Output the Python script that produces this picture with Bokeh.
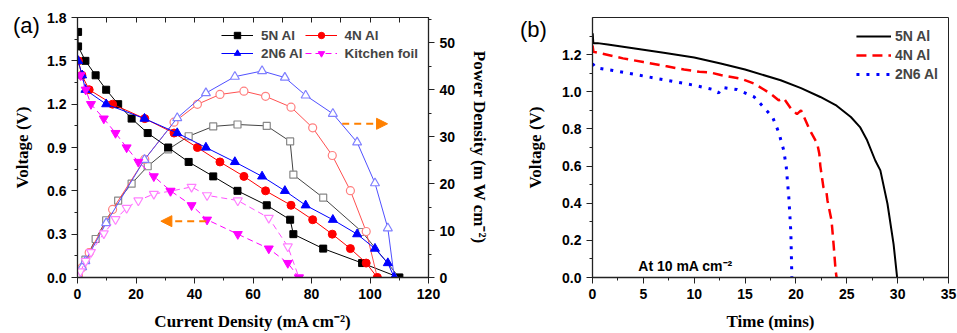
from bokeh.plotting import figure
from bokeh.models import (Range1d, LinearAxis, SingleIntervalTicker, Legend, LegendItem,
                          Arrow, NormalHead, Label, PrintfTickFormatter, CustomJSTickFormatter,
                          Div)
from bokeh.layouts import row
from bokeh.embed import file_html
from bokeh.resources import INLINE

# ---------------- Panel (a) data: polarization & power curves ----------------
cd_5n = [0.2, 0.2, 2.7, 6.2, 9.8, 13.9, 18.5, 24.0, 31.0, 38.0, 46.4, 54.7, 64.7, 72.7, 73.8, 84.0, 97.3, 110.0]
v_5n = [1.7, 1.6, 1.5, 1.4, 1.3, 1.2, 1.1, 1.0, 0.9, 0.8, 0.7, 0.6, 0.5, 0.4, 0.3, 0.2, 0.1, 0.0]
pd_5n = [0.3, 0.3, 3.8, 8.2, 12.2, 16.4, 20.0, 23.7, 27.3, 30.1, 32.2, 32.6, 32.3, 29.0, 21.9, 17.0, 9.7, 0.0]

cd_4n = [0.3, 1.5, 4.0, 12.0, 23.0, 33.0, 41.0, 48.7, 56.9, 64.3, 73.0, 80.4, 87.1, 93.3, 98.7, 102.5]
v_4n = [1.5, 1.4, 1.3, 1.2, 1.1, 1.0, 0.9, 0.8, 0.7, 0.6, 0.5, 0.4, 0.3, 0.2, 0.1, 0.0]
pd_4n = [0.45, 2.1, 5.3, 14.5, 25.2, 33.1, 36.9, 39.0, 39.7, 38.6, 36.3, 31.9, 26.0, 18.5, 9.8, 0.0]

cd_2n6 = [0.2, 1.6, 2.7, 9.8, 22.9, 34.1, 43.9, 53.8, 63.1, 70.9, 78.0, 87.3, 95.6, 101.7, 106.1, 108.3]
v_2n6 = [1.5, 1.4, 1.3, 1.2, 1.1, 1.0, 0.9, 0.8, 0.7, 0.6, 0.5, 0.4, 0.3, 0.2, 0.1, 0.0]
pd_2n6 = [0.3, 2.2, 3.5, 11.6, 25.1, 34.0, 39.3, 42.8, 44.0, 42.6, 38.8, 34.9, 28.8, 20.1, 10.5, 0.0]

cd_kf = [1.0, 2.8, 4.6, 9.0, 13.0, 16.8, 20.8, 26.1, 31.8, 39.0, 44.3, 54.8, 65.4, 71.9, 75.7]
v_kf = [1.4, 1.3, 1.2, 1.1, 1.0, 0.9, 0.8, 0.7, 0.6, 0.5, 0.4, 0.3, 0.2, 0.1, 0.0]
pd_kf = [1.3, 3.5, 5.4, 9.4, 12.4, 14.8, 16.4, 17.8, 18.4, 19.3, 17.5, 16.4, 12.7, 6.6, 0.0]

# ---------------- Panel (b) data: discharge at 10 mA cm-2 ----------------
t_5n = [0.0, 0.02, 0.08, 0.5, 1.5, 4.0, 7.0, 10.0, 12.6, 15.0, 18.5, 20.5, 22.4, 24.0, 25.4, 26.3, 27.0, 27.8, 28.3, 29.0, 29.6, 29.95]
u_5n = [1.27, 1.315, 1.262, 1.262, 1.255, 1.235, 1.21, 1.185, 1.152, 1.12, 1.062, 1.02, 0.972, 0.925, 0.864, 0.81, 0.739, 0.63, 0.577, 0.397, 0.18, 0.0]

t_4n = [0.0, 0.1, 1.0, 3.0, 5.0, 7.3, 9.0, 10.5, 11.5, 12.6, 14.6, 15.9, 17.5, 18.3, 18.8, 19.5, 20.1, 20.5, 21.4, 22.1, 22.3, 22.4, 22.7, 23.0, 23.1, 23.5, 23.7, 23.9, 24.0]
u_4n = [1.25, 1.215, 1.205, 1.18, 1.16, 1.137, 1.12, 1.108, 1.105, 1.09, 1.07, 1.044, 0.99, 0.954, 0.965, 0.91, 0.88, 0.9, 0.79, 0.72, 0.667, 0.6, 0.487, 0.46, 0.415, 0.307, 0.18, 0.038, 0.0]

t_2n6 = [0.0, 0.3, 2.0, 4.0, 6.0, 8.0, 10.0, 11.9, 12.4, 12.75, 14.2, 15.9, 16.8, 17.7, 18.3, 18.8, 19.05, 19.3, 19.5, 19.6]
u_2n6 = [1.152, 1.13, 1.115, 1.095, 1.075, 1.055, 1.035, 1.012, 0.994, 1.023, 1.012, 0.972, 0.918, 0.864, 0.783, 0.685, 0.595, 0.433, 0.244, 0.0]

names_a = ["5N Al", "4N Al", "2N6 Al", "Kitchen foil"]
names_b = ["5N Al", "4N Al", "2N6 Al"]

TICK_FONT = "Liberation Sans"
LABEL_FONT = "Liberation Serif"
ORANGE = "#ff8000"


def style_axis(ax):
    ax.major_label_text_font = TICK_FONT
    ax.major_label_text_font_style = "bold"
    ax.major_label_text_font_size = "14px"
    ax.major_label_text_color = "black"
    ax.axis_label_text_font = LABEL_FONT
    ax.axis_label_text_font_style = "bold"
    ax.axis_label_text_font_size = "17px"
    ax.axis_label_text_color = "black"
    ax.axis_line_color = "#222222"
    ax.axis_line_width = 1.3
    ax.major_tick_line_color = "#222222"
    ax.minor_tick_line_color = "#222222"
    ax.major_tick_in = 0
    ax.major_tick_out = 6
    ax.minor_tick_in = 0
    ax.minor_tick_out = 3


# ================= Panel (a) =================
pa = figure(width=500, height=333, x_range=Range1d(0, 120), y_range=Range1d(0, 1.8),
            output_backend="svg", toolbar_location=None,
            min_border_left=77, min_border_right=72, min_border_top=17, min_border_bottom=56)
pa.extra_y_ranges = {"power": Range1d(0, 55.4)}
pa.grid.visible = False
pa.outline_line_color = "#222222"
pa.background_fill_color = "white"
pa.border_fill_color = "white"

pa.xaxis.ticker = SingleIntervalTicker(interval=20, num_minor_ticks=2)
pa.yaxis.ticker = SingleIntervalTicker(interval=0.3, num_minor_ticks=2)
pa.yaxis.formatter = PrintfTickFormatter(format="%.1f")
pa.xaxis.axis_label = "Current Density (mA cm\u207b\u00b2)"
pa.yaxis.axis_label = "Voltage (V)"
for ax in pa.xaxis + pa.yaxis:
    style_axis(ax)
pa.yaxis.axis_label_standoff = 12
pa.xaxis.axis_label_standoff = 10

ax_r = LinearAxis(y_range_name="power", ticker=SingleIntervalTicker(interval=10, num_minor_ticks=2),
                  axis_label="Power Density (m W cm\u207b\u00b2)")
style_axis(ax_r)
ax_r.axis_label_standoff = 12
pa.add_layout(ax_r, "right")

ax_top = LinearAxis(ticker=SingleIntervalTicker(interval=10, num_minor_ticks=0),
                    formatter=CustomJSTickFormatter(code="return ''"))
ax_top.axis_line_color = "#222222"
ax_top.major_tick_in = 5
ax_top.major_tick_out = 0
ax_top.minor_tick_in = 0
ax_top.minor_tick_out = 0
ax_top.major_tick_line_color = "#222222"
pa.add_layout(ax_top, "above")

series_a = [
    (cd_5n, v_5n, pd_5n, "black", "#444444", "#888888", "square", 7, "solid"),
    (cd_4n, v_4n, pd_4n, "#ff0000", "#ff5050", "#ff8080", "circle", 8, "solid"),
    (cd_2n6, v_2n6, pd_2n6, "#0000ff", "#5050ff", "#8080ff", "triangle", 9, "solid"),
    (cd_kf, v_kf, pd_kf, "#ff00ff", "#ff50ff", "#ff80ff", "inverted_triangle", 9, "6 4"),
]
items_a = {}
for (cd, v, pw, col, lcol, ocol, mk, sz, dash), name in zip(series_a, names_a):
    pa.line(cd, pw, y_range_name="power", line_color=lcol, line_width=1, line_dash=dash)
    pa.scatter(cd, pw, y_range_name="power", marker=mk, size=sz, fill_color="white",
               line_color=ocol, line_width=1.2)
    rl = pa.line(cd, v, line_color=col, line_width=1, line_dash=dash)
    rs = pa.scatter(cd, v, marker=mk, size=sz, fill_color=col, line_color=col)
    items_a[name] = LegendItem(label=name, renderers=[rl, rs])

# column-major fill: (5N, 2N6) in column 1, (4N, Kitchen foil) in column 2
leg_a = Legend(items=[items_a[n] for n in [names_a[0], names_a[2], names_a[1], names_a[3]]],
               ncols=2, location="top_right")
leg_a.label_text_font = TICK_FONT
leg_a.label_text_font_style = "bold"
leg_a.label_text_font_size = "13.5px"
leg_a.glyph_width = 32
leg_a.glyph_height = 16
leg_a.label_height = 16
leg_a.label_standoff = 8
leg_a.spacing = 2
leg_a.padding = 0
leg_a.margin = 10
leg_a.border_line_color = None
leg_a.background_fill_alpha = 0
pa.add_layout(leg_a)

pa.add_layout(Arrow(end=NormalHead(size=11, fill_color=ORANGE, line_color=ORANGE),
                    x_start=44, y_start=0.39, x_end=28.5, y_end=0.39,
                    line_color=ORANGE, line_width=2, line_dash="7 5"))
pa.add_layout(Arrow(end=NormalHead(size=11, fill_color=ORANGE, line_color=ORANGE),
                    x_start=90.5, y_start=1.064, x_end=106.0, y_end=1.064,
                    line_color=ORANGE, line_width=2, line_dash="7 5"))

# ================= Panel (b) =================
pb = figure(width=457, height=333, x_range=Range1d(0, 35), y_range=Range1d(0, 1.4),
            output_backend="svg", toolbar_location=None,
            min_border_left=92, min_border_right=9, min_border_top=17, min_border_bottom=56)
pb.grid.visible = False
pb.outline_line_color = "#222222"
pb.xaxis.ticker = SingleIntervalTicker(interval=5, num_minor_ticks=2)
pb.yaxis.ticker = SingleIntervalTicker(interval=0.2, num_minor_ticks=2)
pb.yaxis.formatter = PrintfTickFormatter(format="%.1f")
pb.xaxis.axis_label = "Time (mins)"
pb.yaxis.axis_label = "Voltage (V)"
for ax in pb.xaxis + pb.yaxis:
    style_axis(ax)
pb.yaxis.axis_label_standoff = 14
pb.xaxis.axis_label_standoff = 10

r1 = pb.line(t_5n, u_5n, line_color="black", line_width=2)
r2 = pb.line(t_4n, u_4n, line_color="#ff0000", line_width=2.5, line_dash="10 6")
r3 = pb.line(t_2n6, u_2n6, line_color="#0000ff", line_width=3, line_dash="3 7")
leg_b = Legend(items=[LegendItem(label=n, renderers=[r]) for n, r in zip(names_b, [r1, r2, r3])],
               location="top_right")
leg_b.label_text_font = TICK_FONT
leg_b.label_text_font_style = "bold"
leg_b.label_text_font_size = "14px"
leg_b.glyph_width = 35
leg_b.glyph_height = 18
leg_b.label_height = 18
leg_b.label_standoff = 4
leg_b.spacing = 1
leg_b.padding = 0
leg_b.margin = 10
leg_b.border_line_color = None
leg_b.background_fill_alpha = 0
pb.add_layout(leg_b)

pb.add_layout(Label(x=4.5, y=0.06, text="At 10 mA cm\u207b\u00b2", text_font=TICK_FONT,
                    text_font_style="bold", text_font_size="14px", text_baseline="middle",
                    text_align="left", text_color="black"))

# panel letters as absolutely positioned text elements (outside the plot frames)
letter_style = {"position": "absolute", "font-family": "Liberation Sans", "font-size": "22px",
                "line-height": "26px", "color": "black", "z-index": "10"}
div_a = Div(text="(a)", width=40, height=30, styles=dict(letter_style, left="8px", top="8px"))
div_b = Div(text="(b)", width=40, height=30, styles=dict(letter_style, left="515px", top="12px"))

layout = row(pa, pb)
open("out.html", "w").write(file_html([layout, div_a, div_b], INLINE))
